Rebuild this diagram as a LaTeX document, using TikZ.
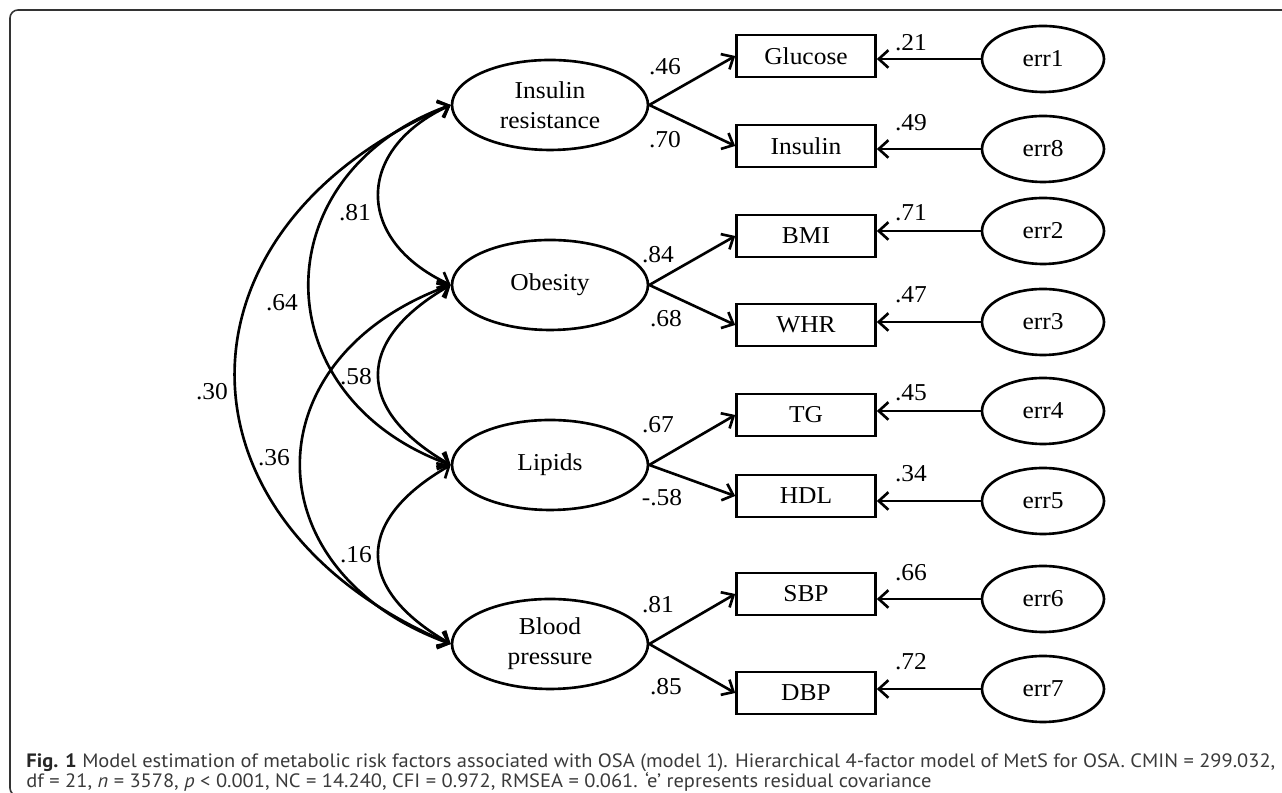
\documentclass[tikz,border=0pt]{standalone}
\usepackage{fontspec}
\setmainfont[FakeStretch=1.05]{Liberation Serif}
\newfontfamily\capfont[FakeStretch=1.06]{PT Sans}
\usetikzlibrary{arrows.meta,shapes.geometric}
\definecolor{capgray}{HTML}{3A3A3A}
\definecolor{framegray}{HTML}{333333}
\tikzset{
  thick line/.style={line width=1.5pt},
  latent/.style={ellipse,draw,thick line,minimum width=3.92cm,minimum height=1.8cm,align=center,inner sep=0pt},
  obsbox/.style={rectangle,draw,thick line,minimum width=2.78cm,minimum height=0.84cm,inner sep=0pt},
  errnode/.style={ellipse,draw,thick line,minimum width=2.44cm,minimum height=1.32cm,inner sep=0pt},
  load/.style={thick line,-{Straight Barb[length=5.5pt,width=10pt]}},
  cov/.style={thick line,{Straight Barb[length=5.5pt,width=10pt]}-{Straight Barb[length=5.5pt,width=10pt]}},
  coef/.style={inner sep=0pt},
  capline/.style={anchor=base west,inner sep=0pt,text=capgray,font=\capfont\fontsize{11}{13}\selectfont},
}

\begin{document}
\begin{tikzpicture}[x=0.02cm,y=0.02cm,every node/.append style={font=\fontsize{13.8}{17}\selectfont}]
  \useasboundingbox (0,0) rectangle (1282,793);
  % frame, cut at the right and bottom
  \begin{scope}
    \clip (0,0) rectangle (1282,793);
    \draw[framegray,line width=0.9pt,rounded corners=0.16cm] (10,-3) rectangle (1300,783);
  \end{scope}

  % factors
  \node[latent] (ir) at (550,688) {Insulin\\resistance};
  \node[latent] (ob) at (550,508) {Obesity};
  \node[latent] (lip) at (550,328) {Lipids};
  \node[latent] (bp) at (550,149) {Blood\\pressure};

  % indicators and their errors
  \foreach \n/\t/\y/\e/\ey/\et in {glu/Glucose/737/e1/734/err1, ins/Insulin/647/e8/644/err8,
      bmi/BMI/557/e2/562/err2, whr/WHR/468/e3/471/err3, tg/TG/378/e4/382/err4,
      hdl/HDL/297/e5/292/err5, sbp/SBP/199/e6/194/err6, dbp/DBP/100/e7/104/err7} {
    \node[obsbox] (\n) at (806,\y) {\t};
    \node[errnode] (\e) at (1043,\ey) {\et};
    \draw[load] (\e) -- (\e -| \n.east);
  }

  \foreach \f/\a/\b in {ir/glu/ins, ob/bmi/whr, lip/tg/hdl, bp/sbp/dbp} {
    \draw[load] (\f.east) -- (\a.west);
    \draw[load] (\f.east) -- (\b.west);
  }

  % correlations between factors
  \draw[cov] (ir.west) .. controls +(205:106) and +(155:106) .. (ob.west);
  \draw[cov] (ir.west) .. controls +(200:201) and +(160:201) .. (lip.west);
  \draw[cov] (ir.west) .. controls +(203:312) and +(157:312) .. (bp.west);
  \draw[cov] (ob.west) .. controls +(210:111) and +(150:111) .. (lip.west);
  \draw[cov] (ob.west) .. controls +(200:213) and +(160:213) .. (bp.west);
  \draw[cov] (lip.west) .. controls +(210:111) and +(150:111) .. (bp.west);

  % estimates
  \foreach \v/\x/\y [count=\i] in {.46/665/726, .70/665/653, .84/658/538, .68/666/474,
      .67/658/368, -.58/662/295, .81/658/188, .85/666/106,
      .21/911/750, .49/911/670, .71/911/580, .47/911/498,
      .45/911/400, .34/911/319, .66/911/220, .72/911/131,
      .81/355/580, .64/282/490, .30/212/401, .58/356/416, .36/274/335, .16/356/238}
    \node[coef] (c\i) at (\x,\y) {\v};

  % caption
  \node[capline] (cap1) at (26,25) {{\bfseries\color{black!85}Fig. 1} Model estimation of metabolic risk factors associated with OSA (model 1). Hierarchical 4-factor model of MetS for OSA. CMIN = 299.032,};
  \node[capline] (cap2) at (26,5) {df = 21, \textit{n} = 3578, \textit{p} < 0.001, NC = 14.240, CFI = 0.972, RMSEA = 0.061. ‘e’ represents residual covariance};
\end{tikzpicture}
\end{document}
